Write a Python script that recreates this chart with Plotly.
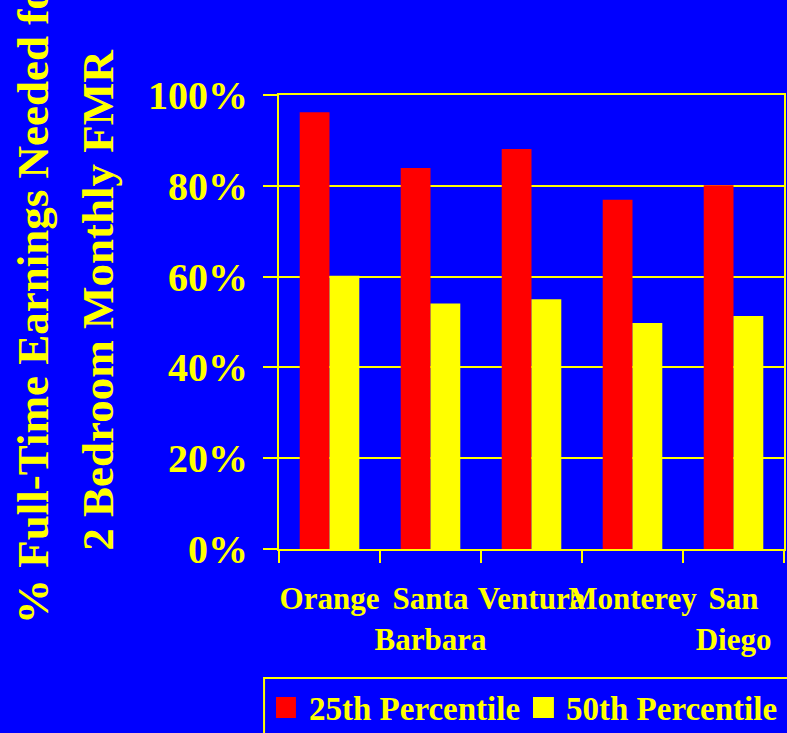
import plotly.graph_objects as go

# Metro areas and share of full-time earnings needed for a 2-bedroom FMR
categories = ["Orange", "Santa Barbara", "Ventura", "Monterey", "San Diego"]
tick_labels = ["Orange", "Santa<br>Barbara", "Ventura", "Monterey", "San<br>Diego"]
series_names = ["25th Percentile", "50th Percentile"]
pct_25th = [0.962, 0.839, 0.881, 0.769, 0.801]
pct_50th = [0.602, 0.541, 0.550, 0.498, 0.513]
y_ticks = [0, 0.2, 0.4, 0.6, 0.8, 1.0]
y_tick_labels = ["0%", "20%", "40%", "60%", "80%", "100%"]
title_lines = ["% Full-Time Earnings Needed for", "2 Bedroom Monthly FMR"]

BLUE = "#0000FF"
RED = "#FF0000"
YELLOW = "#FFFF00"
FONT = "Liberation Serif"

W, H = 787, 733
L, R, T, B = 279, 1, 95, 184
PW, PH = W - L - R, H - T - B


def px_x(px):
    return (px - L) / PW


def px_y(py):
    return (H - B - py) / PH


fig = go.Figure()
fig.add_trace(go.Bar(x=categories, y=pct_25th, name=series_names[0],
                     marker=dict(color=RED, line=dict(width=0)), showlegend=False))
fig.add_trace(go.Bar(x=categories, y=pct_50th, name=series_names[1],
                     marker=dict(color=YELLOW, line=dict(width=0)), showlegend=False))

fig.update_layout(
    width=W, height=H,
    margin=dict(l=L, r=R, t=T, b=B, pad=0),
    paper_bgcolor=BLUE, plot_bgcolor=BLUE,
    font=dict(family=FONT, color=YELLOW, weight="bold"),
    barmode="group", bargap=0.41, bargroupgap=0,
    showlegend=False,
)
fig.update_xaxes(
    tickvals=categories, ticktext=tick_labels, tickson="boundaries",
    ticks="outside", ticklen=12, tickwidth=2, tickcolor=YELLOW,
    showline=True, linecolor=YELLOW, linewidth=2, mirror=True,
    showgrid=False, tickfont=dict(size=31, family=FONT, color=YELLOW, weight="bold"),
    ticklabelstandoff=21, tickangle=0,
)
fig.update_yaxes(
    range=[0, 1], tickvals=y_ticks, ticktext=y_tick_labels,
    ticks="outside", ticklen=14, tickwidth=2, tickcolor=YELLOW,
    showline=True, linecolor=YELLOW, linewidth=2, mirror=True,
    showgrid=True, gridcolor=YELLOW, gridwidth=2, zeroline=False,
    tickfont=dict(size=40, family=FONT, color=YELLOW, weight="bold"),
    ticklabelstandoff=7,
)

# Two-line rotated axis title
for cx, cy, text in zip([32, 97], [295, 300], title_lines):
    fig.add_annotation(
        text=text, textangle=-90, showarrow=False,
        xref="paper", yref="paper", x=px_x(cx), y=px_y(cy),
        xanchor="center", yanchor="middle",
        font=dict(size=45, family=FONT, color=YELLOW, weight="bold"),
    )

# Legend box with swatches
fig.add_shape(type="rect", xref="paper", yref="paper",
              x0=px_x(264), x1=px_x(820), y0=px_y(678), y1=px_y(780),
              line=dict(color=YELLOW, width=2), fillcolor=BLUE, layer="above")
for (sx0, sx1, tx), color, name in zip([(276, 296, 307), (534, 555, 565)],
                                        [RED, YELLOW], series_names):
    fig.add_shape(type="rect", xref="paper", yref="paper",
                  x0=px_x(sx0), x1=px_x(sx1), y0=px_y(697), y1=px_y(718),
                  line=dict(width=0), fillcolor=color, layer="above")
    fig.add_annotation(text=name, showarrow=False, xref="paper", yref="paper",
                       x=px_x(tx), y=px_y(709), xanchor="left", yanchor="middle",
                       font=dict(size=33, family=FONT, color=YELLOW, weight="bold"))

fig.write_html("out.html")
